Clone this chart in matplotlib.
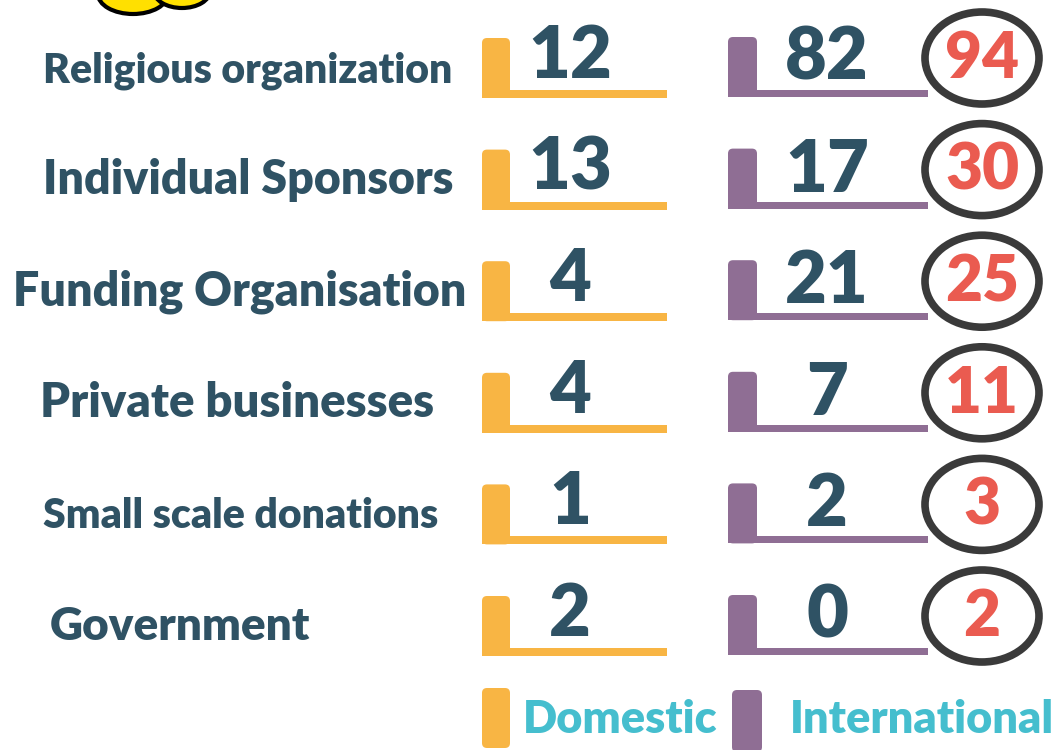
import matplotlib
matplotlib.use("Agg")
import matplotlib.pyplot as plt
from matplotlib.patches import FancyBboxPatch, Rectangle, Ellipse

plt.rcParams['font.family'] = ['Lato', 'DejaVu Sans']

# data
sources = ['Religious organization', 'Individual Sponsors', 'Funding Organisation',
           'Private businesses', 'Small scale donations', 'Government']
domestic = [12, 13, 4, 4, 1, 2]
international = [82, 17, 21, 7, 2, 0]
totals = [d + i for d, i in zip(domestic, international)]

# layout (pixel space)
label_x = [43, 43, 13, 40, 43, 50]
label_size = [29.5, 33.5, 33.5, 34, 29.5, 33]
row0 = 98
row_step = 111.6

yellow = '#F8B544'
purple = '#8F6E94'
navy = '#2F5264'
red = '#EA5B50'
ring = '#3A3A3A'
teal = '#45BECE'

fig = plt.figure(figsize=(10.64, 7.5), dpi=100)
ax = fig.add_axes([0, 0, 1, 1])
ax.set_xlim(0, 1064)
ax.set_ylim(750, 0)
ax.axis('off')

# coins peeking at the top
ax.add_patch(Ellipse((133, -6), 70, 40, facecolor='#FFE000', edgecolor='black', lw=3))
ax.add_patch(Ellipse((182, -9), 56, 34, facecolor='#FFE000', edgecolor='black', lw=3))


def bracket(x0, x1, bottom, color, w, h, t):
    ax.add_patch(FancyBboxPatch((x0, bottom - h), w, h, boxstyle='round,pad=0,rounding_size=5',
                                facecolor=color, edgecolor='none'))
    ax.add_patch(Rectangle((x0, bottom - t), x1 - x0, t, facecolor=color, edgecolor='none'))


for i, name in enumerate(sources):
    yb = row0 + row_step * i
    ax.text(label_x[i], yb - 16, name, fontsize=label_size[i], fontweight='heavy',
            color=navy, ha='left', va='baseline')
    bracket(482, 667, yb, yellow, 28, 60, 8)
    bracket(728, 928, yb - 1, purple, 29, 60, 7)
    ax.text(570, yb - 20, str(domestic[i]), fontsize=52, fontweight='heavy', color=navy,
            ha='center', va='baseline')
    ax.text(827, yb - 18, str(international[i]), fontsize=52, fontweight='heavy', color=navy,
            ha='center', va='baseline')
    ax.add_patch(Ellipse((982, yb - 40), 114, 92, facecolor='none', edgecolor=ring, lw=5.5))
    ax.text(982, yb - 20, str(totals[i]), fontsize=46, fontweight='heavy', color=red,
            ha='center', va='baseline')

# legend
ax.add_patch(FancyBboxPatch((482, 688), 28, 60, boxstyle='round,pad=0,rounding_size=5',
                            facecolor=yellow, edgecolor='none'))
ax.text(523, 733, 'Domestic', fontsize=32.5, fontweight='heavy', color=teal, va='baseline')
ax.add_patch(FancyBboxPatch((732, 690), 30, 62, boxstyle='round,pad=0,rounding_size=5',
                            facecolor=purple, edgecolor='none'))
ax.text(790, 733, 'International', fontsize=32.5, fontweight='heavy', color=teal, va='baseline')

fig.savefig('out.png', dpi=100)
